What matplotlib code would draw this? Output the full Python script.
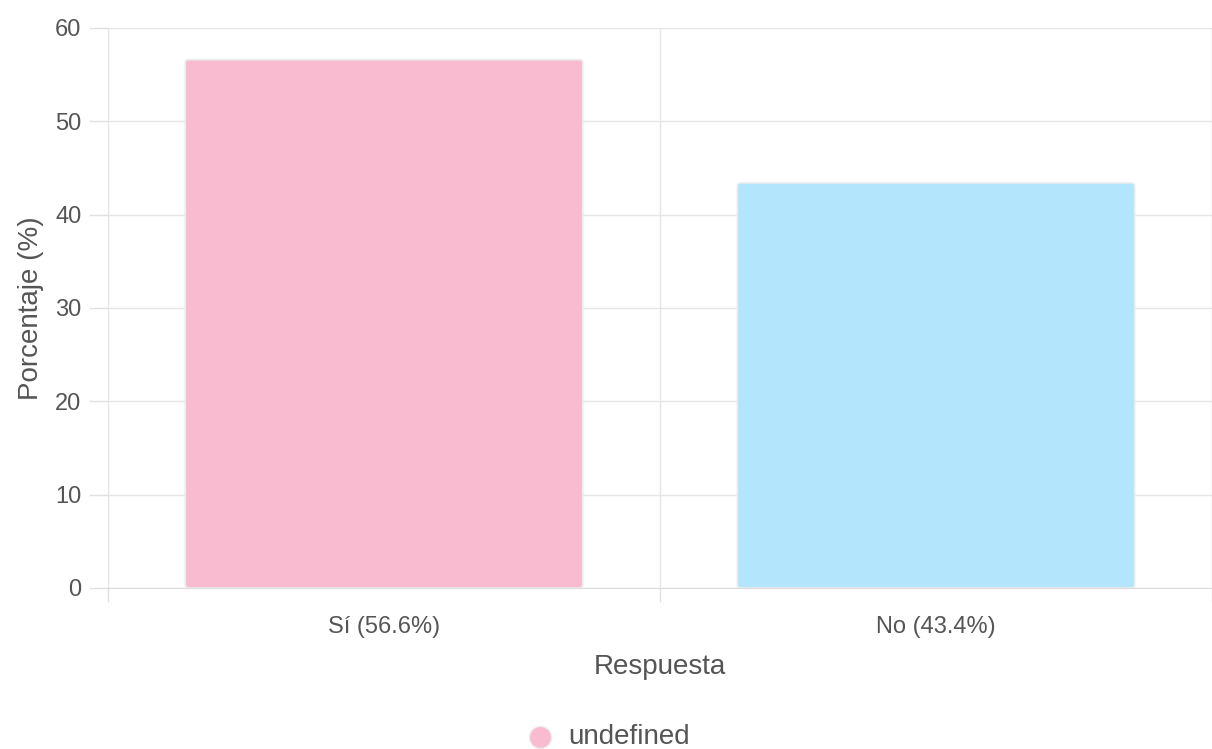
import matplotlib.pyplot as plt
from matplotlib.patches import FancyBboxPatch
from matplotlib.lines import Line2D

categorias = ["Sí (56.6%)", "No (43.4%)"]
porcentajes = [56.6, 43.4]
colores = ["#F8BBD0", "#B3E5FC"]
yticks = [0, 10, 20, 30, 40, 50, 60]

plt.rcParams['font.family'] = ['Liberation Sans', 'DejaVu Sans']

fig = plt.figure(figsize=(12.12, 7.49), dpi=100)
ax = fig.add_axes([108 / 1212, 1 - 588 / 749, 1 - 108 / 1212, (588 - 28) / 749])

ancho = 0.72
for i, (v, c) in enumerate(zip(porcentajes, colores)):
    barra = FancyBboxPatch((i - ancho / 2, 0), ancho, v,
                           boxstyle="round,pad=0,rounding_size=0.006",
                           mutation_aspect=54,
                           facecolor=c, edgecolor="#ececec", linewidth=1.2,
                           zorder=3)
    ax.add_patch(barra)

ax.set_xlim(-0.5, 1.5)
ax.set_ylim(0, 60)

# ejes y rejilla estilo Chart.js
gris_texto = '#555555'
ax.set_yticks(yticks)
ax.set_xticks(range(len(categorias)))
ax.set_xticklabels(categorias)
ax.set_xticks([-0.5, 0.5, 1.5], minor=True)
ax.tick_params(axis='x', which='major', length=0, pad=20, labelsize=17, labelcolor=gris_texto)
ax.tick_params(axis='x', which='minor', length=10, width=1, color='#e0e0e0')
ax.tick_params(axis='y', length=14, width=1, color='#e0e0e0', pad=5,
               labelsize=17, labelcolor=gris_texto)
ax.grid(axis='y', color='#e5e5e5', linewidth=1, zorder=0)
ax.grid(axis='x', which='minor', color='#e5e5e5', linewidth=1, zorder=0)
for lado in ['top', 'right']:
    ax.spines[lado].set_visible(False)
ax.spines['left'].set_color('#e0e0e0')
ax.spines['bottom'].set_color('#dcdcdc')
ax.spines['left'].set_zorder(1)

ax.set_xlabel("Respuesta", fontsize=20, color=gris_texto, labelpad=12)
ax.set_ylabel("Porcentaje (%)", fontsize=20, color=gris_texto, labelpad=8)

# leyenda
fig.add_artist(Line2D([540 / 1212], [1 - 737 / 749], transform=fig.transFigure,
                      marker='o', markersize=16, markerfacecolor=colores[0],
                      markeredgecolor='#eeeeee', markeredgewidth=1, linestyle='none'))
fig.text(568 / 1212, 1 - 737 / 749, "undefined", fontsize=20, color=gris_texto,
         ha='left', va='center')

fig.savefig("out.png", dpi=100, facecolor='white')
